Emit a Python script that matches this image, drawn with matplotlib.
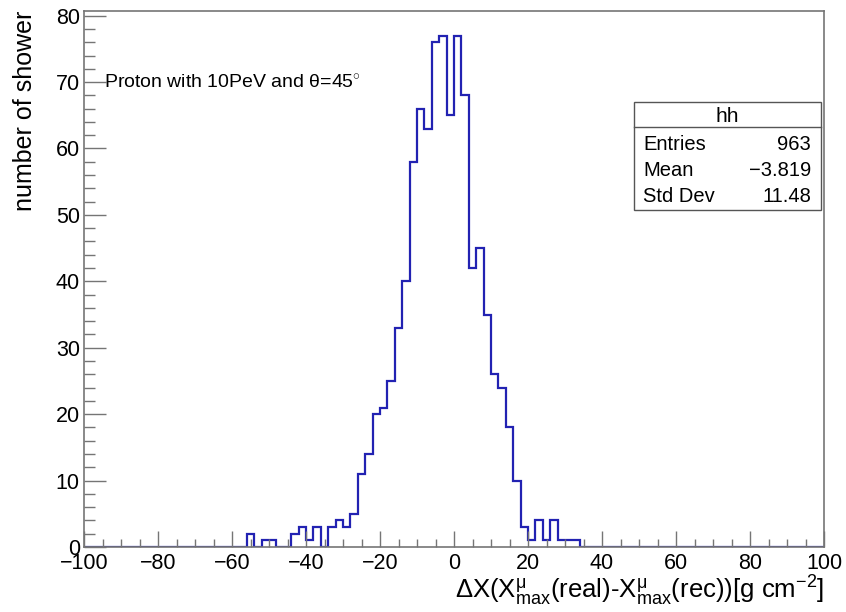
import numpy as np
import matplotlib

matplotlib.use("Agg")
import matplotlib.pyplot as plt
from matplotlib.patches import Rectangle
from matplotlib.lines import Line2D
from matplotlib.ticker import MultipleLocator

plt.rcParams["font.family"] = ["Liberation Sans", "DejaVu Sans"]
plt.rcParams["mathtext.fontset"] = "custom"
plt.rcParams["mathtext.rm"] = "Liberation Sans"
plt.rcParams["mathtext.it"] = "Liberation Sans:italic"

# histogram hh: 100 bins of width 2 over [-100, 100]
bin_edges = np.arange(-100, 101, 2)
# non-empty bins: lower edge -> count
filled_lo = [-56, -52, -50,
             -44, -42, -40, -38, -34, -32, -30,
             -28, -26, -24, -22, -20, -18, -16, -14,
             -12, -10, -8, -6, -4, -2,
             0, 2, 4, 6, 8, 10, 12, 14, 16, 18,
             20, 22, 24, 26, 28, 30, 32]
filled_n = [2, 1, 1,
            2, 3, 1, 3, 3, 4, 3,
            5, 11, 14, 20, 21, 25, 33, 40,
            58, 66, 63, 76, 77, 65,
            77, 68, 42, 45, 35, 26, 24, 18, 10, 3,
            1, 4, 1, 4, 1, 1, 1]

stats_title = "hh"
stats_rows = [("Entries", "963"), ("Mean", "\u22123.819"), ("Std Dev", "11.48")]

counts = np.zeros(len(bin_edges) - 1)
for lo, n in zip(filled_lo, filled_n):
    counts[(lo + 100) // 2] = n

W, H = 846, 612
fig = plt.figure(figsize=(W / 100, H / 100), dpi=100)


def fx(px):
    return px / W


def fy(py):
    return 1 - py / H


ax = fig.add_axes([fx(84), fy(547), fx(824) - fx(84), fy(11) - fy(547)])
ax.stairs(counts, bin_edges, color="#2222b2", lw=1.6, baseline=0)
ax.set_xlim(-100, 100)
ax.set_ylim(0, 80.7)

frame_c = "#757575"
for sp in ax.spines.values():
    sp.set_color(frame_c)
    sp.set_linewidth(1.2)

ax.xaxis.set_major_locator(MultipleLocator(20))
ax.xaxis.set_minor_locator(MultipleLocator(5))
ax.yaxis.set_major_locator(MultipleLocator(10))
ax.yaxis.set_minor_locator(MultipleLocator(2))
ax.tick_params(axis="x", which="major", direction="in", length=11.5, width=1.0,
               color=frame_c, labelsize=15.5, pad=4)
ax.tick_params(axis="x", which="minor", direction="in", length=5.8, width=1.0,
               color=frame_c)
ax.tick_params(axis="y", which="major", direction="in", length=15.8, width=1.0,
               color=frame_c, labelsize=15.5, pad=3)
ax.tick_params(axis="y", which="minor", direction="in", length=8, width=1.0,
               color=frame_c)

ax.set_ylabel("number of shower", fontsize=18, loc="top")
ax.yaxis.set_label_coords(-0.064, 1.0)
ax.set_xlabel(r"$\Delta$X(X$^{\rm \mu}_{\rm max}$(real)-X$^{\rm \mu}_{\rm max}$(rec))[g cm$^{-2}$]",
              fontsize=18.5, loc="right", labelpad=0)

fig.text(fx(104), fy(83), "Proton with 10PeV and \u03b8=45$^{\\circ}$",
         fontsize=14, ha="left", va="center")

# stats box
bx0, bx1, by0, by1, bhead = 634, 821, 102, 210, 127
fig.patches.append(Rectangle((fx(bx0), fy(by1)), fx(bx1) - fx(bx0), fy(by0) - fy(by1),
                             transform=fig.transFigure, fill=True, facecolor="white",
                             edgecolor="#555555", lw=1.0, zorder=5))
fig.lines.append(Line2D([fx(bx0), fx(bx1)], [fy(bhead), fy(bhead)],
                        transform=fig.transFigure, color="#555555", lw=1.0, zorder=6))
fig.text((fx(bx0) + fx(bx1)) / 2, fy(116), stats_title, fontsize=15,
         ha="center", va="center", zorder=7)
for i, (k, v) in enumerate(stats_rows):
    yy = fy(145 + 25.5 * i)
    fig.text(fx(643), yy, k, fontsize=14.5, ha="left", va="center", zorder=7)
    fig.text(fx(811), yy, v, fontsize=14.5, ha="right", va="center", zorder=7)

fig.savefig("out.png", dpi=100)
plt.close(fig)
